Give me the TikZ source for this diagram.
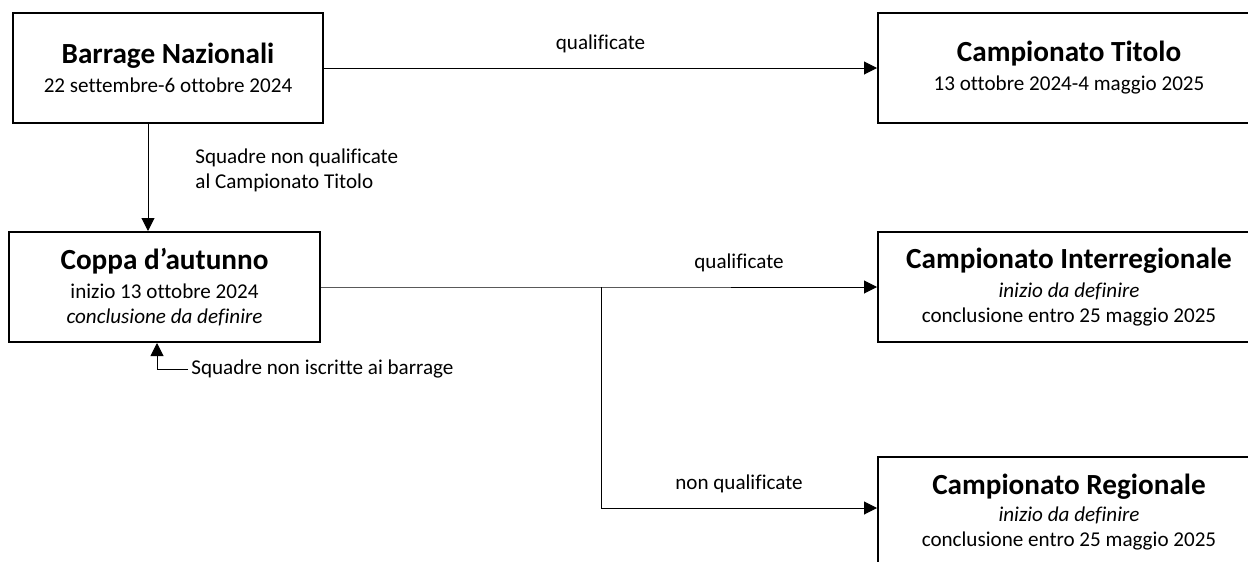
\documentclass[tikz,border=0pt]{standalone}
\usepackage{fontspec}
\setmainfont{Carlito}[Ligatures=CommonOff]
\usetikzlibrary{arrows.meta,calc}
\newcommand{\titlesize}{\fontsize{14.6}{17}\selectfont\bfseries}
\newcommand{\textsize}{\fontsize{10.55}{12.5}\selectfont}

\begin{document}
\begin{tikzpicture}[x=0.5pt,y=-0.5pt,
  box/.style={draw,line width=1pt,align=center,inner sep=0pt,minimum height=55pt,font=\textsize},
  arrow/.style={-{Triangle[length=6.5pt,width=6.5pt]},line width=0.5pt},
  lbl/.style={font=\textsize,inner sep=1.5pt}]
\clip (0,0) rectangle (1248,562);

% the boxes on the left
\node[box,minimum width=155pt] (barrage) at (168,68)
  {{\titlesize Barrage Nazionali}\\[2pt] 22 settembre-6 ottobre 2024};
\node[box,minimum width=155.5pt] (coppa) at (164.5,287)
  {{\titlesize Coppa d’autunno}\\[2pt] inizio 13 ottobre 2024\\ \textit{conclusione da definire}};
% the boxes on the right
\node[box,minimum width=191pt] (titolo) at (1069,68)
  {{\titlesize Campionato Titolo}\\[2pt] 13 ottobre 2024-4 maggio 2025};
\node[box,minimum width=191pt] (interreg) at (1069,287)
  {{\titlesize Campionato Interregionale}\\[2pt] \textit{inizio da definire}\\ conclusione entro 25 maggio 2025};
\node[box,minimum width=191pt] (regionale) at (1069,512)
  {{\titlesize Campionato Regionale}\\[1pt] \textit{inizio da definire}\\ conclusione entro 25 maggio 2025};

% the side labels
\node[lbl,anchor=west,align=left] (nonqual) at (192,170)
  {Squadre non qualificate\\ al Campionato Titolo};
\node[lbl,anchor=west] (nonisc) at (188,369) {Squadre non iscritte ai barrage};

% the arrows
\draw[arrow] (barrage) -- node[lbl,above=6pt] {qualificate} (titolo);
\draw[arrow] ([xshift=-10pt]barrage.south) -- ([xshift=-10pt]barrage.south |- coppa.north);
\draw[arrow] (nonisc.west) -| ([xshift=-3.75pt]coppa.south);
\coordinate (split) at (601,287);
\draw[arrow] (coppa.east) -- (split) -- node[lbl,above=6pt] {qualificate} (interreg.west);
\draw[arrow] (split) |- node[lbl,pos=0.75,above=6pt] {non qualificate} ([yshift=2pt]regionale.west);
\end{tikzpicture}
\end{document}
